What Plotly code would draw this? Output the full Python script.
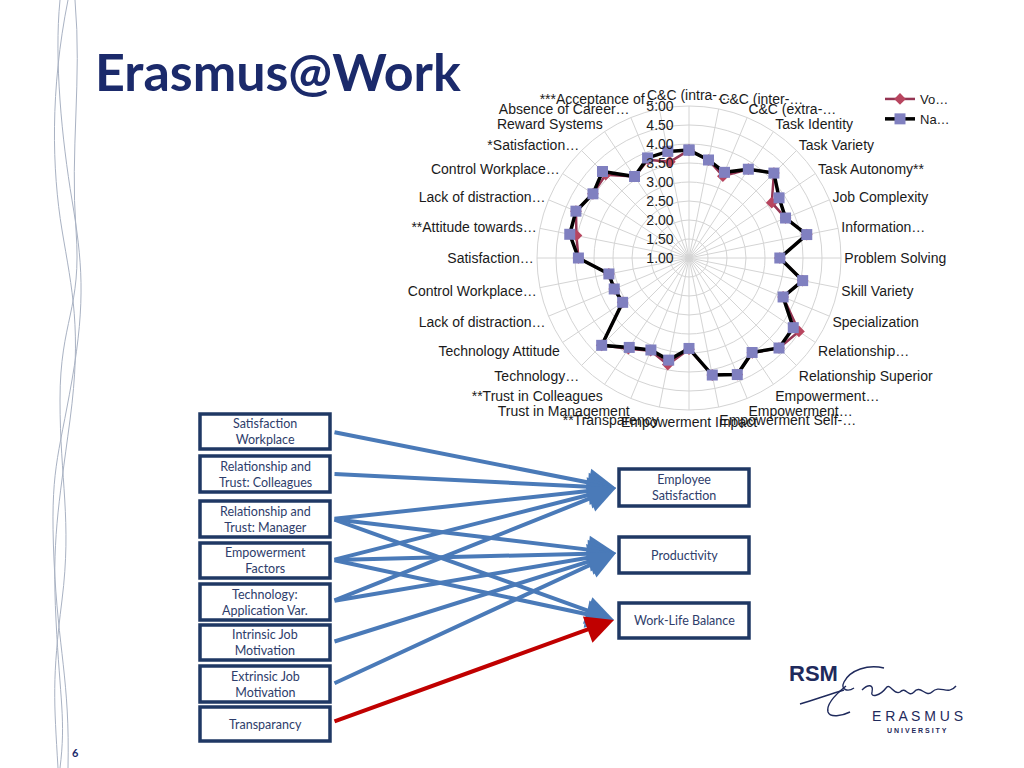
import plotly.graph_objects as go

# ---------------- data ----------------
categories = [
    "C&C (intra-…", "C&C (inter-…", "C&C (extra-…", "Task Identity", "Task Variety",
    "Task Autonomy**", "Job Complexity", "Information…", "Problem Solving", "Skill Variety",
    "Specialization", "Relationship…", "Relationship Superior", "Empowerment…", "Empowerment…",
    "Empowerment Self-…", "Empowerment Impact", "**Transparency", "Trust in Management",
    "**Trust in Colleagues", "Technology…", "Technology Attitude", "Lack of distraction…",
    "Control Workplace…", "Satisfaction…", "**Attitude towards…", "Lack of distraction…",
    "Control Workplace…", "*Satisfaction…", "Reward Systems", "Absence of Career…",
    "***Acceptance of…",
]
na_values = [3.84, 3.63, 3.44, 3.81, 4.16, 3.85, 3.75, 4.16, 3.39, 4.05,
             3.68, 4.30, 4.35, 3.99, 4.32, 4.14, 3.38, 3.74, 3.62, 3.83,
             4.25, 3.10, 3.13, 3.15, 3.91, 4.20, 4.22, 4.04, 4.22, 3.58,
             3.85, 3.86]
vo_values = [3.84, 3.63, 3.33, 3.81, 4.16, 3.62, 3.75, 4.16, 3.39, 4.05,
             3.68, 4.48, 4.35, 4.00, 4.32, 4.14, 3.40, 3.86, 3.64, 3.87,
             4.25, 3.10, 3.13, 3.15, 3.91, 4.02, 4.22, 4.04, 4.10, 3.58,
             3.80, 3.58]
series_names = ["Vo…", "Na…"]
radial_ticks = [1.0, 1.5, 2.0, 2.5, 3.0, 3.5, 4.0, 4.5, 5.0]

left_boxes = ["Satisfaction<br>Workplace", "Relationship and<br>Trust: Colleagues",
              "Relationship and<br>Trust: Manager", "Empowerment<br>Factors",
              "Technology:<br>Application Var.", "Intrinsic Job<br>Motivation",
              "Extrinsic Job<br>Motivation", "Transparancy"]
right_boxes = ["Employee<br>Satisfaction", "Productivity", "Work-Life Balance"]
# (source index, target index)
links = [(0, 0), (1, 0), (2, 0), (2, 1), (2, 2), (3, 0), (3, 1), (3, 2),
         (4, 0), (4, 1), (5, 1), (6, 1), (7, 2)]

# ---------------- layout helpers ----------------
W, H = 1024, 768
def px(x):
    return x / W
def py(y):
    return 1 - y / H

n = len(categories)
step = 360.0 / n
theta = [i * step for i in range(n)]
theta_closed = theta + [theta[0]]

AX_FONT = dict(family="Arial, Liberation Sans", size=14, color="#1A1A1A")

fig = go.Figure()
fig.add_trace(go.Scatterpolar(
    r=vo_values + [vo_values[0]], theta=theta_closed, name=series_names[0],
    mode="lines+markers", line=dict(color="#953553", width=2.5),
    marker=dict(symbol="diamond", size=9, color="#B8455F"),
))
fig.add_trace(go.Scatterpolar(
    r=na_values + [na_values[0]], theta=theta_closed, name=series_names[1],
    mode="lines+markers", line=dict(color="#000000", width=3.5),
    marker=dict(symbol="square", size=11, color="#8080C0"),
))

cx, cy, R = 689, 258, 152
fig.update_layout(
    width=W, height=H, margin=dict(l=0, r=0, t=0, b=0),
    paper_bgcolor="white", plot_bgcolor="white",
    font=dict(family="Arial, Liberation Sans", size=12, color="#222222"),
    polar=dict(
        domain=dict(x=[px(cx - R), px(cx + R)], y=[py(cy + R), py(cy - R)]),
        bgcolor="white",
        radialaxis=dict(range=[1, 5], tickmode="array", tickvals=radial_ticks,
                        tickformat=".2f", angle=90, tickangle=90, side="counterclockwise",
                        showline=False, ticks="outside", ticklen=10, tickcolor="rgba(0,0,0,0)",
                        gridcolor="#D4D4D4", gridwidth=1, tickfont=AX_FONT),
        angularaxis=dict(rotation=90, direction="clockwise", thetaunit="degrees",
                         tickmode="array", tickvals=theta, ticktext=categories,
                         gridcolor="#D4D4D4", linecolor="#D4D4D4", ticks="",
                         tickfont=AX_FONT),
    ),
    legend=dict(x=px(880), y=py(84), xanchor="left", yanchor="top",
                bgcolor="rgba(0,0,0,0)", font=dict(family="Arial, Liberation Sans", size=13, color="#1A1A1A"),
                itemwidth=30, tracegroupgap=0),
    showlegend=True,
)

shapes = []
annotations = []

# title
annotations.append(dict(text="<b>Erasmus@Work</b>", x=px(93), y=py(71), xref="paper", yref="paper",
                        xanchor="left", yanchor="middle", showarrow=False,
                        font=dict(family="Lato", size=52, color="#1B2A6B")))
# page number
annotations.append(dict(text="<b>6</b>", x=px(75), y=py(752), xref="paper", yref="paper",
                        xanchor="center", yanchor="middle",
                        showarrow=False, font=dict(family="Lato", size=11, color="#1B2A6B")))

# decorative curves on the left
curve_paths = [
    "M 68 0 C 50 90, 52 170, 62 230 S 82 330, 70 420 S 52 540, 56 620 S 66 720, 60 768",
    "M 75 0 C 82 80, 70 150, 76 230 S 60 320, 60 400 S 72 520, 62 600 S 54 700, 58 768",
    "M 60 0 C 54 60, 62 140, 72 200 S 86 300, 72 380 S 50 470, 54 560 S 70 680, 68 768",
]
for p in curve_paths:
    shapes.append(dict(type="path", path=p, xref="x", yref="y",
                       line=dict(color="#A9B2C3", width=1)))

# boxes
left_y = [(414, 449), (456, 492), (501, 537), (543, 578), (584, 620), (625, 660), (666, 702), (707, 741)]
right_y = [(469, 506), (537, 573), (603, 638)]
lx0, lx1, rx0, rx1 = 200, 330, 619, 749
box_line = dict(color="#1F3864", width=3.5)
box_font = dict(family="Lato", size=12.5, color="#2E3D6B")
for (y0, y1), label in zip(left_y, left_boxes):
    shapes.append(dict(type="rect", xref="paper", yref="paper", x0=px(lx0), x1=px(lx1),
                       y0=py(y1), y1=py(y0), line=box_line, fillcolor="white", layer="above"))
    annotations.append(dict(text=label, x=px((lx0 + lx1) / 2), y=py((y0 + y1) / 2),
                            xref="paper", yref="paper", showarrow=False,
                            xanchor="center", yanchor="middle", align="center", font=box_font))
for (y0, y1), label in zip(right_y, right_boxes):
    shapes.append(dict(type="rect", xref="paper", yref="paper", x0=px(rx0), x1=px(rx1),
                       y0=py(y1), y1=py(y0), line=box_line, fillcolor="white", layer="above"))
    annotations.append(dict(text=label, x=px((rx0 + rx1) / 2), y=py((y0 + y1) / 2),
                            xref="paper", yref="paper", showarrow=False,
                            xanchor="center", yanchor="middle", align="center", font=box_font))

# arrows
src_y = [432, 474, 519, 560, 601, 642, 684, 722]
tip = [(616, 488), (616, 553), (614, 620)]
for s, t in links:
    sx, sy = 333, src_y[s]
    tx, ty = tip[t]
    color = "#C00000" if s == 7 else "#4A7AB8"
    annotations.append(dict(text="", x=px(tx), y=py(ty), xref="paper", yref="paper",
                            ax=sx - tx, ay=sy - ty, axref="pixel", ayref="pixel",
                            showarrow=True, arrowhead=2, arrowsize=1.4, arrowwidth=4,
                            arrowcolor=color, standoff=0, startstandoff=0))

# logo
annotations.append(dict(text="<b>RSM</b>", x=px(787), y=py(673), xref="paper", yref="paper",
                        xanchor="left", yanchor="middle", showarrow=False,
                        font=dict(family="Arial, Liberation Sans", size=22, color="#1F2A5C")))
annotations.append(dict(text="E R A S M U S", x=px(917), y=py(716), xref="paper", yref="paper",
                        xanchor="center", yanchor="middle",
                        showarrow=False, font=dict(family="Arial, Liberation Sans", size=14, color="#1F2A5C")))
annotations.append(dict(text="<b>U N I V E R S I T Y</b>", x=px(917), y=py(730), xref="paper", yref="paper",
                        xanchor="center", yanchor="middle",
                        showarrow=False, font=dict(family="Arial, Liberation Sans", size=7, color="#1F2A5C")))
logo_paths = [
    "M 884 668 C 868 664, 850 670, 844 682 C 840 690, 848 692, 854 688",
    "M 846 686 C 836 694, 826 704, 828 712 C 830 718, 842 716, 850 712",
    "M 844 690 C 830 694, 814 700, 800 704",
    "M 862 690 C 868 684, 874 684, 872 692 C 870 698, 880 696, 886 688 C 890 682, 894 696, 900 692 "
    "C 906 686, 908 698, 914 692 C 920 684, 926 698, 932 692 C 940 684, 948 696, 956 686",
]
for p in logo_paths:
    shapes.append(dict(type="path", path=p, xref="x", yref="y",
                       line=dict(color="#1F2A5C", width=1.4)))

# hidden cartesian axes in pixel units for the drawn decoration paths
fig.update_layout(
    xaxis=dict(range=[0, W], domain=[0, 1], visible=False, fixedrange=True),
    yaxis=dict(range=[H, 0], domain=[0, 1], visible=False, fixedrange=True),
)
fig.update_layout(shapes=shapes, annotations=annotations)

fig.write_html("out.html", config={"displayModeBar": False},
               post_script="document.body.style.margin='0px';")
